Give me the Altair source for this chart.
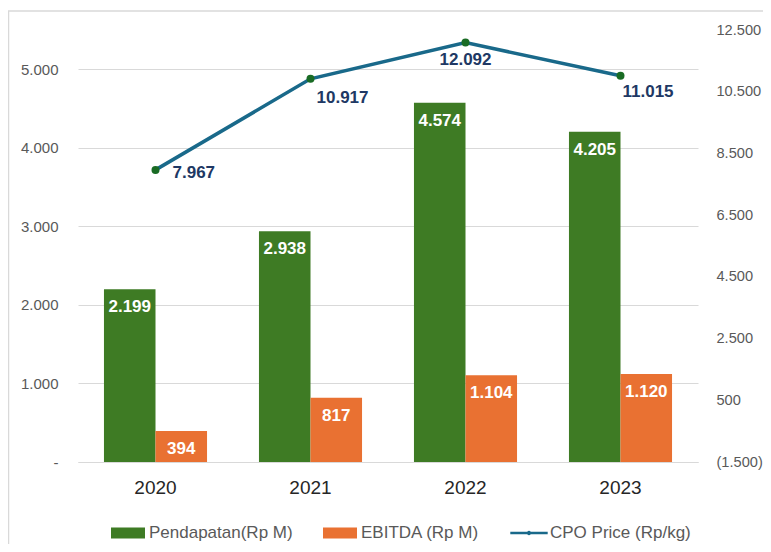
import altair as alt
import pandas as pd

# ---- data ----
years = ["2020", "2021", "2022", "2023"]
pendapatan = [2199, 2938, 4574, 4205]
ebitda = [394, 817, 1104, 1120]
cpo_price = [7967, 10917, 12092, 11015]

S1 = "Pendapatan(Rp M)"
S2 = "EBITDA (Rp M)"
S3 = "CPO Price (Rp/kg)"
series_names = [S1, S2, S3]
left_ticks = [0, 1000, 2000, 3000, 4000, 5000]
right_ticks = [-1500, 500, 2500, 4500, 6500, 8500, 10500, 12500]

bar_rows = []
for y, p, e in zip(years, pendapatan, ebitda):
    bar_rows.append({"year": y, "series": S1, "value": p})
    bar_rows.append({"year": y, "series": S2, "value": e})
bars_df = pd.DataFrame(bar_rows)
line_df = pd.DataFrame({"year": years, "series": S3, "cpo": cpo_price})

# ---- styling ----
FONT = "Liberation Sans"
GREEN = "#3E7B24"
ORANGE = "#E97132"
BLUE = "#19698A"
DOT = "#196B24"
NAVY = "#203864"
GRID = "#D9D9D9"
GREY = "#595959"

fmt = "replace(format({v}, ','), ',', '.')"

color_scale = alt.Scale(domain=series_names, range=[GREEN, ORANGE, BLUE])
rect_path = "M-1,-0.32H1V0.32H-1Z"
line_path = ("M-1.1,-0.07H1.1V0.07H-1.1Z "
             "M-0.13,0A0.13,0.13 0 1,1 0.13,0A0.13,0.13 0 1,1 -0.13,0Z")
shape_scale = alt.Scale(domain=series_names, range=[rect_path, rect_path, line_path])

legend = alt.Legend(
    orient="none", legendX=33, legendY=486, direction="horizontal", columns=3,
    title=None, symbolSize=1156, labelFontSize=17, labelFont=FONT,
    labelColor=GREY, columnPadding=30, labelOffset=4, symbolStrokeWidth=0,
    labelLimit=300,
)

x_scale = alt.Scale(paddingInner=0.335, paddingOuter=0.1675)
x_axis = alt.Axis(title=None, labelAngle=0, labelFontSize=19, labelFont=FONT,
                  labelColor="#262626", ticks=False, labelPadding=16,
                  domainColor=GRID, domainWidth=1, grid=False)
X = alt.X("year:N", sort=years, scale=x_scale, axis=x_axis)

y_left = alt.Y(
    "value:Q",
    scale=alt.Scale(domain=[0, 5500], nice=False),
    axis=alt.Axis(title=None, values=left_ticks, grid=True, gridColor=GRID,
                  domain=False, ticks=False, labelPadding=20, labelFontSize=15,
                  labelFont=FONT, labelColor=GREY,
                  labelExpr="datum.value == 0 ? '-' : " + fmt.format(v="datum.value")),
)
x_off = alt.XOffset("series:N", sort=[S1, S2], scale=alt.Scale(paddingInner=0, paddingOuter=0))

bars = alt.Chart(bars_df).mark_bar().encode(
    x=X, xOffset=x_off, y=y_left,
    color=alt.Color("series:N", scale=color_scale, legend=legend),
)
bar_text = alt.Chart(bars_df).transform_calculate(
    label=fmt.format(v="datum.value")
).mark_text(baseline="middle", dy=18, color="white", fontWeight="bold",
            fontSize=17, font=FONT).encode(
    x=X, xOffset=x_off, y=y_left, text="label:N",
)
left = alt.layer(bars, bar_text)

y_right = alt.Y(
    "cpo:Q", scale=alt.Scale(domain=[-1500, 12500], nice=False),
    axis=alt.Axis(title=None, orient="right", values=right_ticks, grid=False,
                  domain=False, ticks=False, labelPadding=18, labelFontSize=14.6,
                  labelFont=FONT, labelColor=GREY,
                  labelExpr="datum.value < 0 ? '(' + " + fmt.format(v="-datum.value")
                  + " + ')' : " + fmt.format(v="datum.value")),
)

line = alt.Chart(line_df).mark_line(strokeWidth=3.5).encode(
    x=X, y=y_right,
    color=alt.Color("series:N", scale=color_scale, legend=legend),
)
points = alt.Chart(line_df).mark_point(
    filled=True, shape="circle", size=64, opacity=1, color=DOT
).encode(x=X, y=y_right)

# legend-only layer (draws no marks) so the legend shows a line-with-dot symbol
legend_layer = alt.Chart(line_df).transform_filter("false").mark_point(
    filled=True, opacity=1
).encode(
    x=X, y=y_right,
    color=alt.Color("series:N", scale=color_scale, legend=legend),
    shape=alt.Shape("series:N", scale=shape_scale, legend=legend),
)

# label placement style per year: (align, dx, dy)
label_style = {"2020": ("left", 17, 3), "2021": ("left", 6, 19),
               "2022": ("center", 0, 17), "2023": ("left", 2, 16)}
line_texts = []
for yr in years:
    al, dx, dy = label_style[yr]
    line_texts.append(
        alt.Chart(line_df).transform_filter(alt.datum.year == yr).transform_calculate(
            label=fmt.format(v="datum.cpo")
        ).mark_text(align=al, dx=dx, dy=dy, baseline="middle", fontWeight="bold",
                    fontSize=17, font=FONT, color=NAVY).encode(
            x=X, y=y_right, text="label:N",
        )
    )
right = alt.layer(line, points, legend_layer, *line_texts)

frame = alt.Chart(pd.DataFrame({"a": [0]})).mark_rect(
    fillOpacity=0, stroke=GRID, strokeWidth=1.5
).encode(x=alt.value(-69.5), x2=alt.value(700), y=alt.value(-19), y2=alt.value(530))

chart = alt.layer(frame, left, right).resolve_scale(y="independent").properties(
    width=620, height=432,
    autosize=alt.AutoSizeParams(type="none"),
    padding={"left": 70, "top": 22, "right": 65, "bottom": 82},
).configure_view(stroke=None)

chart.save("out.html", embed_options={"renderer": "svg", "actions": False})
